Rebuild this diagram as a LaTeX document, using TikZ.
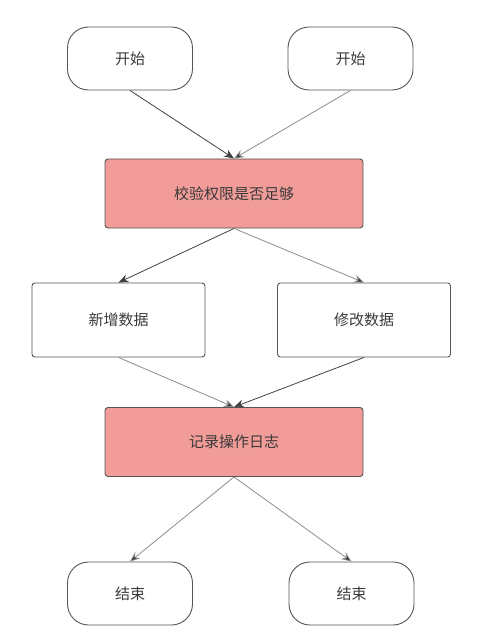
\documentclass[tikz,border=0pt]{standalone}
\usepackage{fontspec}
\setmainfont{Noto Sans CJK SC}
\usetikzlibrary{arrows.meta}
\definecolor{boxpink}{HTML}{F19C99}
\definecolor{boxline}{HTML}{555555}
\definecolor{txtgray}{HTML}{3A3A3A}
\tikzset{
  terminal/.style={draw=boxline, line width=0.9pt, rounded corners=21pt,
    minimum width=125pt, minimum height=63pt, text=txtgray,
    font=\fontsize{15}{18}\selectfont},
  stepbox/.style={draw=boxline, line width=0.9pt, rounded corners=3pt,
    minimum width=173pt, minimum height=74pt, text=txtgray,
    font=\fontsize{15}{18}\selectfont},
  checkbox/.style={stepbox, fill=boxpink, minimum width=258pt, minimum height=69pt},
  darkline/.style={draw=black!75, line width=0.8pt, -{Stealth[length=10pt,width=8pt]}},
  lightline/.style={draw=black!45, line width=0.8pt, -{Stealth[length=10pt,width=8pt,fill=black!80]}}
}
\begin{document}
\begin{tikzpicture}[x=1pt,y=-1pt]
    \useasboundingbox (0,0) rectangle (490,644);

    % inizio
    \node[terminal] (startA) at (130,58.5) {开始};
    \node[terminal] (startB) at (350.5,58.5) {开始};

    % controllo permessi
    \node[checkbox] (check) at (234,193.5) {校验权限是否足够};

    % operazioni
    \node[stepbox] (addData) at (118.5,320) {新增数据};
    \node[stepbox] (editData) at (364,320) {修改数据};

    % registro
    \node[checkbox] (writeLog) at (234,442) {记录操作日志};

    % fine
    \node[terminal] (endA) at (130,593.5) {结束};
    \node[terminal] (endB) at (351.5,593.5) {结束};

    % frecce
    \draw[darkline] (startA.south) -- (check.north);
    \draw[lightline] (startB.south) -- (check.north);
    \draw[darkline] (check.south) -- (addData.north);
    \draw[lightline] (check.south) -- (editData.north);
    \draw[lightline] (addData.south) -- (writeLog.north);
    \draw[darkline] (editData.south) -- (writeLog.north);
    \draw[lightline] (writeLog.south) -- (endA.north);
    \draw[lightline] (writeLog.south) -- (endB.north);
\end{tikzpicture}
\end{document}
